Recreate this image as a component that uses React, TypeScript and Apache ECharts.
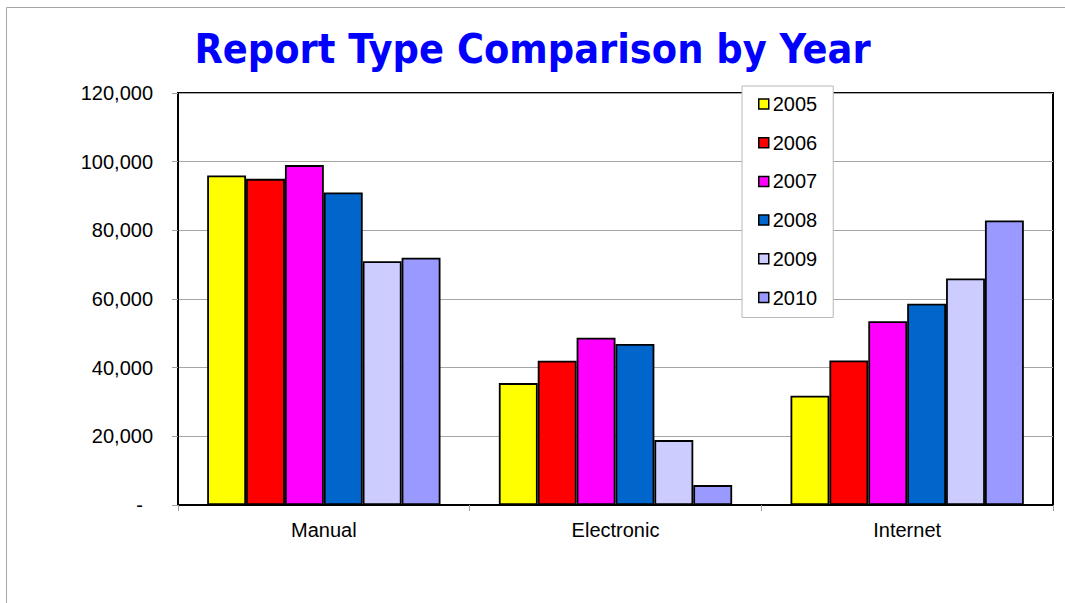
import React, { useEffect, useRef } from "react";
import * as echarts from "echarts";

const categories = ["Manual", "Electronic", "Internet"];
const years = ["2005", "2006", "2007", "2008", "2009", "2010"];
const colors = ["#FFFF00", "#FF0000", "#FF00FF", "#0066CC", "#CCCCFF", "#9999FF"];
const v2005 = [96000, 35500, 31800];
const v2006 = [95000, 42000, 42100];
const v2007 = [99000, 48700, 53500];
const v2008 = [91000, 46900, 58600];
const v2009 = [71000, 18900, 66000];
const v2010 = [72000, 5800, 82900];
const seriesValues = [v2005, v2006, v2007, v2008, v2009, v2010];
const yTicks = { min: 0, max: 120000, interval: 20000 };

export default function App() {
  const ref = useRef<HTMLDivElement>(null);
  useEffect(() => {
    if (!ref.current) return;
    const chart = echarts.init(ref.current, null, { renderer: "svg" });
    chart.setOption({
      animation: false,
      backgroundColor: "#ffffff",
      title: {
        text: "Report Type Comparison by Year",
        left: "center",
        top: 28,
        padding: 0,
        textStyle: {
          fontFamily: "DejaVu Sans Condensed",
          fontWeight: "bold",
          fontSize: 41,
          color: "#0000FF",
        },
      },
      graphic: [
        { type: "line", shape: { x1: 6.5, y1: 7.5, x2: 1065, y2: 7.5 }, style: { stroke: "#a6a6a6", lineWidth: 1 }, silent: true },
        { type: "line", shape: { x1: 6.5, y1: 7.5, x2: 6.5, y2: 603 }, style: { stroke: "#a6a6a6", lineWidth: 1 }, silent: true },
      ],
      legend: {
        orient: "vertical",
        left: 742,
        top: 86,
        width: 94,
        padding: [8, 16, 10, 16],
        backgroundColor: "#ffffff",
        borderColor: "#b8b8b8",
        borderWidth: 1,
        itemWidth: 10,
        itemHeight: 10,
        itemGap: 18.7,
        icon: "rect",
        itemStyle: { borderColor: "#000", borderWidth: 1.5 },
        textStyle: { fontFamily: "Liberation Sans, Arial", fontSize: 20, color: "#000", padding: [0, 0, 0, -1] },
        data: years,
      },
      grid: {
        left: 178,
        top: 93,
        right: 12,
        bottom: 98,
        show: true,
        borderColor: "#000",
        borderWidth: 2,
        containLabel: false,
      },
      xAxis: {
        type: "category",
        data: categories,
        axisLine: { show: true, lineStyle: { color: "#000", width: 2 } },
        axisTick: { show: true, length: 6, alignWithLabel: false, lineStyle: { color: "#a0a0a0", width: 1 } },
        axisLabel: { margin: 15, fontFamily: "Liberation Sans, Arial", fontSize: 20, color: "#000" },
        splitLine: { show: false },
      },
      yAxis: {
        type: "value",
        min: yTicks.min,
        max: yTicks.max,
        interval: yTicks.interval,
        axisLine: { show: true, lineStyle: { color: "#000", width: 2 } },
        axisTick: { show: true, length: 6, lineStyle: { color: "#a0a0a0", width: 1 } },
        splitLine: { show: true, lineStyle: { color: "#a6a6a6", width: 1 } },
        axisLabel: {
          margin: 25,
          fontFamily: "Liberation Sans, Arial",
          fontSize: 20,
          color: "#000",
          formatter: (v: number) => (v === 0 ? "{d|-}" : v.toLocaleString("en-US")),
          rich: { d: { fontFamily: "Liberation Sans, Arial", fontSize: 20, color: "#000", padding: [0, 10, 0, 0] } },
        },
      },
      series: years.map((y, i) => ({
        name: y,
        type: "bar",
        data: seriesValues[i],
        barGap: "0%",
        barCategoryGap: "20%",
        itemStyle: { color: colors[i], borderColor: "#000", borderWidth: 1.8 },
      })),
    });
    return () => chart.dispose();
  }, []);
  return <div ref={ref} style={{ position: "fixed", left: 0, top: 0, width: 1065, height: 603 }} />;
}
